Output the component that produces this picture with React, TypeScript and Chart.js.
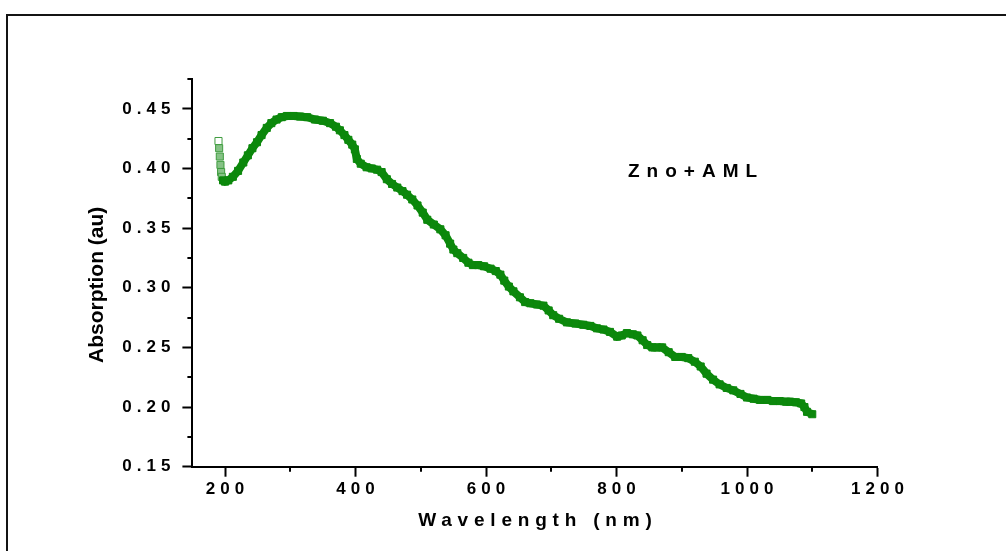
import React, { useEffect, useRef } from 'react';
import { Chart, registerables } from 'chart.js';

Chart.register(...registerables);

const wavelength = [
  190, 191, 192, 193, 194, 195, 197, 200, 205, 212, 220, 228, 235, 242, 249, 256, 264, 271, 279, 287,
  295, 305, 315, 326, 338, 350, 361, 370, 376, 383, 389, 395, 399, 402, 408, 417, 425, 433, 440, 448,
  456, 464, 472, 479, 487, 495, 503, 510, 520, 530, 538, 545, 550, 556, 565, 573, 580, 588, 597, 607,
  615, 622, 628, 635, 642, 652, 660, 668, 678, 688, 696, 703, 712, 724, 737, 749, 760, 770, 780, 790,
  801, 808, 816, 825, 832, 840, 847, 855, 862, 870, 880, 890, 900, 910, 920, 929, 938, 948, 958, 969,
  979, 990, 1000, 1010, 1020, 1031, 1040, 1050, 1060, 1066, 1075, 1083, 1088, 1092, 1100,
];

const absorption = [
  0.423, 0.417, 0.41, 0.403, 0.397, 0.393, 0.39, 0.389, 0.39, 0.393, 0.398, 0.405, 0.411, 0.417, 0.422, 0.428, 0.434, 0.438, 0.441, 0.443,
  0.444, 0.444, 0.4435, 0.443, 0.441, 0.44, 0.438, 0.435, 0.432, 0.428, 0.424, 0.42, 0.416, 0.408, 0.404, 0.401, 0.4, 0.399, 0.397, 0.391,
  0.387, 0.384, 0.381, 0.378, 0.374, 0.369, 0.363, 0.357, 0.353, 0.349, 0.344, 0.337, 0.332, 0.329, 0.325, 0.321, 0.319, 0.319, 0.318, 0.316,
  0.314, 0.311, 0.306, 0.301, 0.297, 0.292, 0.288, 0.287, 0.286, 0.285, 0.281, 0.277, 0.274, 0.271, 0.27, 0.269, 0.268, 0.266, 0.265, 0.263,
  0.259, 0.26, 0.262, 0.261, 0.26, 0.256, 0.252, 0.25, 0.25, 0.25, 0.246, 0.242, 0.242, 0.241, 0.238, 0.234, 0.228, 0.223, 0.219, 0.216,
  0.214, 0.211, 0.208, 0.207, 0.206, 0.206, 0.205, 0.205, 0.2045, 0.2045, 0.204, 0.203, 0.2, 0.196, 0.194,
];

const xTickValues = [200, 400, 600, 800, 1000, 1200];
const yTickValues = [0.15, 0.2, 0.25, 0.3, 0.35, 0.4, 0.45];
const xMinorTicks = [300, 500, 700, 900, 1100];
const yMinorTicks = [0.175, 0.225, 0.275, 0.325, 0.375, 0.425, 0.475];
const seriesLabel = 'Zno+AML';
const xTitle = 'Wavelength (nm)';
const yTitle = 'Absorption (au)';

export default function App() {
  const ref = useRef<HTMLCanvasElement>(null);

  useEffect(() => {
    document.body.style.margin = '0';
    const canvas = ref.current as HTMLCanvasElement;
    const FONT = '"Liberation Sans", Arial, sans-serif';
    const GREEN = '#0c880c';
    const startN = 6;

    const spacingPlugin = {
      id: 'spacing',
      beforeDraw(chart: any) {
        const cfg: any = {
          x: { label: '5px', title: '5.8px', dx: 2.9, dy: 0 },
          y: { label: '5px', title: '0px', dx: 0, dy: 12 },
        };
        for (const id of ['x', 'y']) {
          const sc: any = chart.scales[id];
          if (!sc || sc.__wrapped) continue;
          const c = cfg[id];
          const dl = sc.drawLabels.bind(sc);
          const dt = sc.drawTitle.bind(sc);
          sc.drawLabels = (area: any) => {
            const ctx = sc.ctx;
            ctx.save();
            ctx.letterSpacing = c.label;
            dl(area);
            ctx.restore();
          };
          sc.drawTitle = () => {
            const ctx = sc.ctx;
            ctx.save();
            ctx.letterSpacing = c.title;
            ctx.translate(c.dx, c.dy);
            dt();
            ctx.restore();
          };
          sc.__wrapped = true;
        }
        const ctx = chart.ctx;
        ctx.save();
        ctx.fillStyle = '#141414';
        ctx.fillRect(6, 14, 1000, 2);
        ctx.fillRect(6, 14, 2, 537);
        ctx.restore();
      },
      afterDraw(chart: any) {
        const ctx = chart.ctx;
        const xs = chart.scales.x;
        const ys = chart.scales.y;
        const area = chart.chartArea;
        ctx.save();
        ctx.strokeStyle = '#000';
        ctx.lineWidth = 2;
        ctx.beginPath();
        for (const v of yMinorTicks) {
          const py = Math.round(ys.getPixelForValue(v));
          ctx.moveTo(area.left - 5, py);
          ctx.lineTo(area.left, py);
        }
        for (const v of xMinorTicks) {
          const px = Math.round(xs.getPixelForValue(v));
          ctx.moveTo(px, area.bottom);
          ctx.lineTo(px, area.bottom + 5);
        }
        ctx.stroke();
        ctx.fillStyle = '#000';
        ctx.font = 'bold 19px ' + FONT;
        ctx.letterSpacing = '7px';
        ctx.textBaseline = 'middle';
        ctx.textAlign = 'left';
        ctx.fillText(seriesLabel, 628, 172);
        ctx.restore();
      },
    };

    const chart = new Chart(canvas, {
      type: 'line',
      data: {
        datasets: [
          {
            label: seriesLabel,
            data: wavelength.map((x, i) => ({ x, y: absorption[i] })),
            borderColor: GREEN,
            borderWidth: 8,
            fill: false,
            tension: 0,
            pointStyle: 'rect',
            pointRadius: 5,
            pointBorderWidth: 1,
            pointBorderColor: (c: any) => (c.dataIndex < startN ? '#3f9c3f' : GREEN),
            pointBackgroundColor: (c: any) =>
              c.dataIndex === 0 ? '#ffffff' : c.dataIndex < startN ? '#86c286' : GREEN,
            segment: {
              borderColor: (c: any) => (c.p0DataIndex < startN - 1 ? 'rgba(0,0,0,0)' : GREEN),
            },
          } as any,
        ],
      },
      options: {
        responsive: false,
        animation: false,
        layout: { padding: { left: 0, right: 128.5, top: 79, bottom: 0 } },
        plugins: {
          legend: { display: false },
          title: { display: false },
          tooltip: { enabled: false },
        },
        scales: {
          x: {
            type: 'linear',
            min: 150,
            max: 1200,
            afterBuildTicks: (s: any) => {
              s.ticks = xTickValues.map((v) => ({ value: v }));
            },
            afterFit: (s: any) => {
              s.height = 84.3;
            },
            grid: {
              drawOnChartArea: false,
              drawTicks: true,
              tickLength: 10,
              tickWidth: 2,
              tickColor: '#000',
            },
            border: { display: true, color: '#000', width: 2 },
            ticks: {
              color: '#000',
              font: { family: FONT, size: 17, weight: 'bold' },
              padding: 2,
              maxRotation: 0,
              autoSkip: false,
              labelOffset: 2.5,
              callback: (v: any) => String(v),
            },
            title: {
              display: true,
              text: xTitle,
              color: '#000',
              font: { family: FONT, size: 19, weight: 'bold' },
              padding: { top: 0, bottom: 19 },
            },
          },
          y: {
            type: 'linear',
            min: 0.15,
            max: 0.475,
            afterBuildTicks: (s: any) => {
              s.ticks = yTickValues.map((v) => ({ value: v }));
            },
            afterFit: (s: any) => {
              s.width = 192.4;
            },
            grid: {
              drawOnChartArea: false,
              drawTicks: true,
              tickLength: 10,
              tickWidth: 2,
              tickColor: '#000',
            },
            border: { display: true, color: '#000', width: 2 },
            ticks: {
              color: '#000',
              font: { family: FONT, size: 17, weight: 'bold' },
              padding: 7,
              autoSkip: false,
              callback: (v: any) => Number(v).toFixed(2),
            },
            title: {
              display: true,
              text: yTitle,
              color: '#000',
              font: { family: FONT, size: 21, weight: 'bold' },
              padding: { top: 85, bottom: 0 },
            },
          },
        },
      } as any,
      plugins: [spacingPlugin as any],
    });

    return () => chart.destroy();
  }, []);

  return (
    <div style={{ position: 'absolute', left: 0, top: 0, width: 1006, height: 551, background: '#fff' }}>
      <canvas ref={ref} width={1006} height={551} style={{ display: 'block', width: 1006, height: 551 }} />
    </div>
  );
}
